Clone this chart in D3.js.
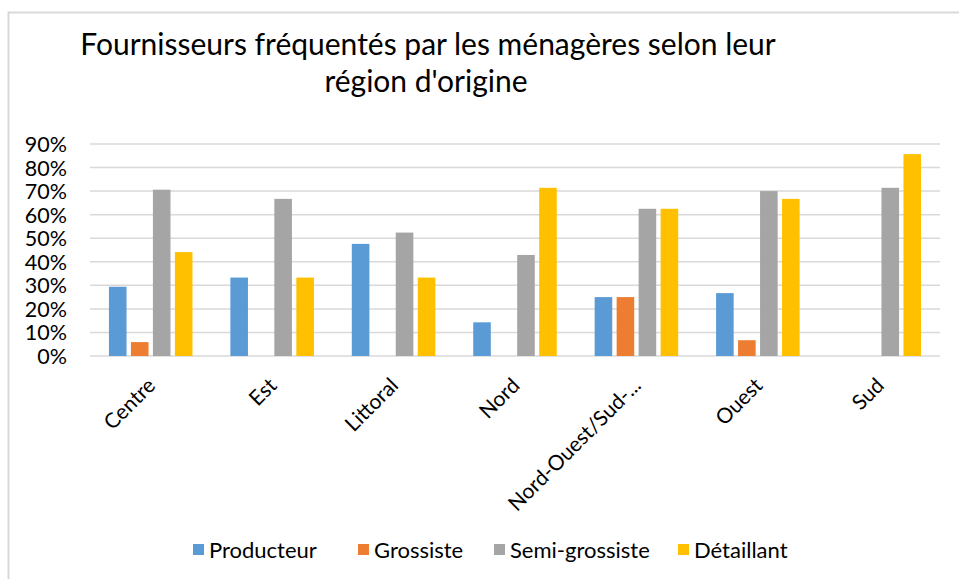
<!DOCTYPE html>
<html>
<head>
<meta charset="utf-8">
<script src="https://cdn.jsdelivr.net/npm/d3@7"></script>
<style>
  body { margin: 0; background: #fff; }
  svg { display: block; font-family: Lato, "Open Sans", sans-serif; }
</style>
</head>
<body>
<div id="chart"></div>
<script>
const regions = ['Centre', 'Est', 'Littoral', 'Nord', 'Nord-Ouest/Sud-...', 'Ouest', 'Sud']
const seriesNames = ['Producteur', 'Grossiste', 'Semi-grossiste', 'Détaillant']
const producteur = [0.294, 0.333, 0.476, 0.143, 0.25, 0.267, 0]
const grossiste = [0.059, 0, 0, 0, 0.25, 0.067, 0]
const semiGrossiste = [0.706, 0.667, 0.524, 0.429, 0.625, 0.70, 0.714]
const detaillant = [0.441, 0.333, 0.333, 0.714, 0.625, 0.667, 0.857]
const yTicks = [0, 0.1, 0.2, 0.3, 0.4, 0.5, 0.6, 0.7, 0.8, 0.9]
const colors = ['#5b9bd5', '#ed7d31', '#a5a5a5', '#ffc000']

const width = 959; const height = 579
const values = [producteur, grossiste, semiGrossiste, detaillant]

const svg = d3.select('#chart').append('svg')
  .attr('width', width).attr('height', height)

// outer chart border (runs off the right/bottom of the picture)
svg.append('rect')
  .attr('x', 8.5).attr('y', 12.5)
  .attr('width', width + 20).attr('height', height + 20)
  .attr('fill', 'none').attr('stroke', '#d9d9d9').attr('stroke-width', 2)

// title
const title = svg.append('text')
  .attr('text-anchor', 'middle')
  .style('font-size', '30px')
  .style('fill', '#000')
title.append('tspan').attr('x', 428).attr('y', 55).text('Fournisseurs fréquentés par les ménagères selon leur')
title.append('tspan').attr('x', 426).attr('y', 92).text("région d'origine")

const x0 = d3.scaleBand().domain(regions).range([90, 940])
const bw = x0.bandwidth()
const x1 = d3.scaleBand().domain(seriesNames)
  .range([bw * 0.156, bw * 0.844]).paddingInner(0.2)
const y = d3.scaleLinear().domain([0, 0.9]).range([356, 144])

// gridlines
svg.append('g')
  .selectAll('line')
  .data(yTicks)
  .enter().append('line')
  .attr('x1', 90).attr('x2', 940)
  .attr('y1', d => y(d)).attr('y2', d => y(d))
  .attr('stroke', '#d9d9d9').attr('stroke-width', 1.5)

// y axis labels
const yAxis = d3.axisLeft(y).tickValues(yTicks).tickFormat(d3.format('.0%')).tickSize(0).tickPadding(0)
svg.append('g')
  .attr('transform', 'translate(67,0)')
  .call(yAxis)
  .call(g => g.select('.domain').remove())
  .selectAll('text')
  .style('font-size', '21.5px')
  .style('font-family', 'Lato, "Open Sans", sans-serif')
  .style('fill', '#000')
  .attr('dy', '0.35em')

// bars
const groups = svg.append('g').selectAll('g')
  .data(seriesNames)
  .enter().append('g')
  .style('fill', (d, i) => colors[i])

groups.selectAll('rect')
  .data((s, i) => values[i].map((v, j) => ({ region: regions[j], name: s, v: v })))
  .enter().append('rect')
  .attr('x', d => x0(d.region) + x1(d.name))
  .attr('width', x1.bandwidth())
  .attr('y', d => y(d.v))
  .attr('height', d => y(0) - y(d.v))

// category labels
const xAxis = d3.axisBottom(x0).tickSize(0).tickPadding(0)
svg.append('g')
  .attr('transform', 'translate(0,' + 372 + ')')
  .call(xAxis)
  .call(g => g.select('.domain').remove())
  .selectAll('text')
  .style('font-size', '21px')
  .style('font-family', 'Lato, "Open Sans", sans-serif')
  .style('fill', '#000')
  .style('text-anchor', 'end')
  .attr('dx', '-0.3em')
  .attr('dy', '0.7em')
  .attr('transform', 'rotate(-45)')

// legend
const legendX = [193, 358, 494, 678]
const legend = svg.append('g')
legend.selectAll('rect')
  .data(seriesNames)
  .enter().append('rect')
  .attr('x', (d, i) => legendX[i]).attr('y', 544)
  .attr('width', 11).attr('height', 11)
  .style('fill', (d, i) => colors[i])
legend.selectAll('text')
  .data(seriesNames)
  .enter().append('text')
  .attr('x', (d, i) => legendX[i] + 16).attr('y', 558)
  .style('font-size', '22px')
  .style('fill', '#000')
  .text(d => d)
</script>
</body>
</html>
